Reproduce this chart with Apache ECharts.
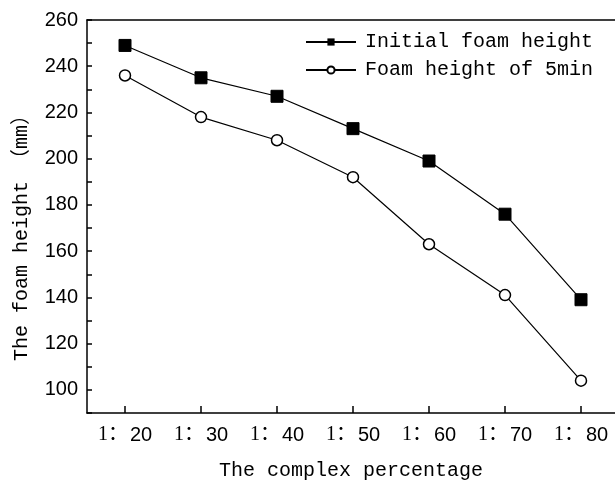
<!DOCTYPE html>
<html>
<head>
<meta charset="utf-8">
<script src="https://cdn.jsdelivr.net/npm/echarts@6/dist/echarts.min.js"></script>
<style>html,body{margin:0;padding:0;background:#fff}#c{width:615px;height:480px}</style>
</head>
<body>
<div id="c"></div>
<script>
var categories = ['1：20', '1：30', '1：40', '1：50', '1：60', '1：70', '1：80'];
var initialHeight = [249, 235, 227, 213, 199, 176, 139];
var height5min = [236, 218, 208, 192, 163, 141, 104];
var seriesNames = ['Initial foam height', 'Foam height of 5min'];
var yTitle = 'The foam height （mm）';
var xTitle = 'The complex percentage';

var mono = '"Liberation Mono", "Noto Sans CJK SC", monospace';
var serif = '"Liberation Serif", "Noto Sans CJK SC", serif';
var sans = '"Liberation Sans", Arial, sans-serif';

var chart = echarts.init(document.getElementById('c'));
chart.setOption({
  animation: false,
  backgroundColor: '#fff',
  grid: { left: 87, top: 20, bottom: 67, right: -4, containLabel: false, outerBoundsMode: 'none' },
  legend: {
    orient: 'vertical',
    left: 300, top: 27,
    itemWidth: 50, itemHeight: 9, itemGap: 8,
    textStyle: { fontFamily: mono, fontSize: 20, color: '#000', padding: [0, 0, 0, 4] },
    data: seriesNames
  },
  xAxis: [{
    type: 'category',
    data: categories,
    boundaryGap: true,
    axisLine: { lineStyle: { color: '#000', width: 1.5 } },
    axisTick: { show: true, interval: 0, inside: true, alignWithLabel: true, length: 7, lineStyle: { color: '#000', width: 1.5 } },
    axisLabel: {
      interval: 0,
      hideOverlap: false,
      margin: 12,
      formatter: function (v) {
        var p = v.split('：');
        return '{s|' + p[0] + '：}{n|' + p[1] + '}';
      },
      rich: {
        s: { fontFamily: serif, fontSize: 20, color: '#000' },
        n: { fontFamily: sans, fontSize: 20, color: '#000', padding: [0, 0, 0, 2] }
      }
    },
    name: xTitle,
    nameLocation: 'middle',
    nameGap: 48,
    nameTextStyle: { fontFamily: mono, fontSize: 20, color: '#000', padding: [0, 0, 0, -4] }
  }, {
    type: 'category',
    position: 'top',
    data: categories,
    axisLine: { show: true, lineStyle: { color: '#000', width: 1.5 } },
    axisTick: { show: false },
    axisLabel: { show: false }
  }],
  yAxis: {
    type: 'value',
    min: 90, max: 260, interval: 10,
    axisLine: { show: true, lineStyle: { color: '#000', width: 1.5 } },
    axisTick: { show: true, inside: true, length: 5, lineStyle: { color: '#000', width: 1.5 } },
    splitLine: { show: false },
    axisLabel: {
      fontFamily: sans, fontSize: 20, color: '#000', margin: 9,
      formatter: function (v) { return (v % 20 === 0) ? String(v) : ''; }
    }
  },
  graphic: [{
    type: 'text',
    x: 22, y: 233,
    rotation: Math.PI / 2,
    style: {
      text: yTitle,
      font: '20px ' + mono,
      fill: '#000',
      align: 'center',
      verticalAlign: 'middle'
    }
  }],
  series: [{
    name: seriesNames[0],
    type: 'line',
    data: initialHeight,
    symbol: 'rect',
    symbolSize: 12,
    itemStyle: { color: '#000', borderColor: '#000' },
    lineStyle: { color: '#000', width: 1.2 }
  }, {
    name: seriesNames[1],
    type: 'line',
    data: height5min,
    symbol: 'circle',
    symbolSize: 11,
    itemStyle: { color: '#fff', borderColor: '#000', borderWidth: 1.5 },
    lineStyle: { color: '#000', width: 1.2 }
  }]
});
</script>
</body>
</html>
